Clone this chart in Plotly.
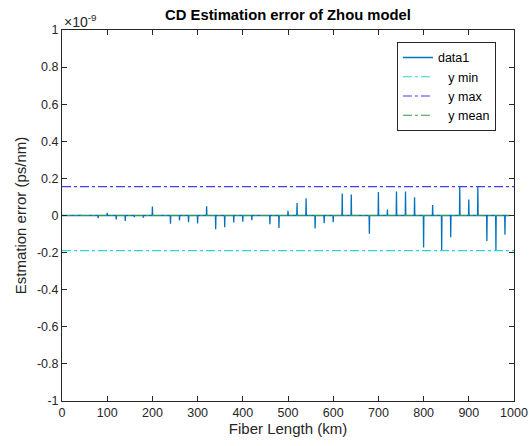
import plotly.graph_objects as go

# ---- data (values in units of 1e-9 ps/nm) ----
spike_km = [40, 80, 100, 120, 140, 160, 180, 200, 240, 260, 280, 300, 320, 340, 360,
            380, 400, 420, 440, 460, 480, 500, 520, 540, 560, 580, 600, 620, 640, 680,
            700, 720, 740, 760, 780, 800, 820, 840, 860, 880, 900, 920, 940, 960, 980]
spike_err = [0.005, -0.014, 0.014, -0.022, -0.029, -0.009, -0.011, 0.049, -0.045, -0.027,
             -0.036, -0.043, 0.050, -0.074, -0.063, -0.038, -0.034, -0.025, 0.003, -0.047,
             -0.068, 0.025, 0.067, 0.093, -0.070, -0.041, -0.036, 0.119, 0.113, -0.099,
             0.126, 0.032, 0.129, 0.129, 0.099, -0.172, 0.056, -0.189, -0.117, 0.156,
             0.086, 0.153, -0.138, -0.189, -0.104]
fiber_start, fiber_end = 0, 990
y_min = -0.189
y_max = 0.156
y_mean = 0.0

x_ticks = [0, 100, 200, 300, 400, 500, 600, 700, 800, 900, 1000]
y_ticks = [-1, -0.8, -0.6, -0.4, -0.2, 0, 0.2, 0.4, 0.6, 0.8, 1]
y_ticklabels = ["-1", "-0.8", "-0.6", "-0.4", "-0.2", "0", "0.2", "0.4", "0.6", "0.8", "1"]

# build the spiky series: zero baseline with a narrow spike at each sample
xs, ys = [fiber_start], [0]
for k, v in zip(spike_km, spike_err):
    xs += [k - 0.6, k, k + 0.6]
    ys += [0, v, 0]
xs.append(fiber_end)
ys.append(0)

FONT = "Liberation Sans, Arial, Helvetica, sans-serif"
TXT = "#262626"
SP = "\u00a0\u00a0\u00a0"

fig = go.Figure()
fig.add_trace(go.Scatter(x=xs, y=ys, mode="lines", name="data1",
                         line=dict(color="#0072BD", width=1.3)))
fig.add_trace(go.Scatter(x=[0, 1000], y=[y_min, y_min], mode="lines", name=SP + "y min",
                         line=dict(color="#2ED3D3", width=1.2, dash="dashdot")))
fig.add_trace(go.Scatter(x=[0, 1000], y=[y_max, y_max], mode="lines", name=SP + "y max",
                         line=dict(color="#3F3FF5", width=1.2, dash="dashdot")))
fig.add_trace(go.Scatter(x=[0, 1000], y=[y_mean, y_mean], mode="lines", name=SP + "y mean",
                         line=dict(color="#3A9A3A", width=1.2, dash="dashdot")))

axis_common = dict(showgrid=False, zeroline=False, showline=True, linecolor=TXT,
                   linewidth=1, mirror="ticks", ticks="inside", ticklen=5, automargin=False,
                   tickcolor=TXT, tickfont=dict(family=FONT, size=12.5, color=TXT))

fig.update_layout(
    width=529, height=446, autosize=False,
    margin=dict(l=62, r=15, t=30, b=45, autoexpand=False),
    paper_bgcolor="white", plot_bgcolor="white",
    font=dict(family=FONT, color=TXT),
    title=dict(text="<b>CD Estimation error of Zhou model</b>",
               font=dict(family=FONT, size=14.8, color="black"),
               x=288 / 529, xanchor="center", y=1 - 15 / 446, yanchor="middle"),
    xaxis=dict(range=[0, 1000], tickvals=x_ticks,
               title=dict(text="Fiber Length (km)", font=dict(family=FONT, size=15, color=TXT),
                          standoff=3),
               **axis_common),
    yaxis=dict(range=[-1, 1], tickvals=y_ticks, ticktext=y_ticklabels,
               title=dict(text="Estmation error (ps/nm)", font=dict(family=FONT, size=15, color=TXT),
                          standoff=6),
               **axis_common),
    legend=dict(x=0.741, y=0.968, xanchor="left", yanchor="top",
                bgcolor="white", bordercolor="#262626", borderwidth=1,
                font=dict(family=FONT, size=12.5, color="black"),
                tracegroupgap=0, itemwidth=30),
    showlegend=True,
)
fig.add_annotation(text="\u00d710<sup>-9</sup>", xref="paper", yref="paper",
                   x=0, y=1, xanchor="left", yanchor="bottom", showarrow=False,
                   font=dict(family=FONT, size=14, color=TXT), yshift=-2)

fig.write_html("out.html")
